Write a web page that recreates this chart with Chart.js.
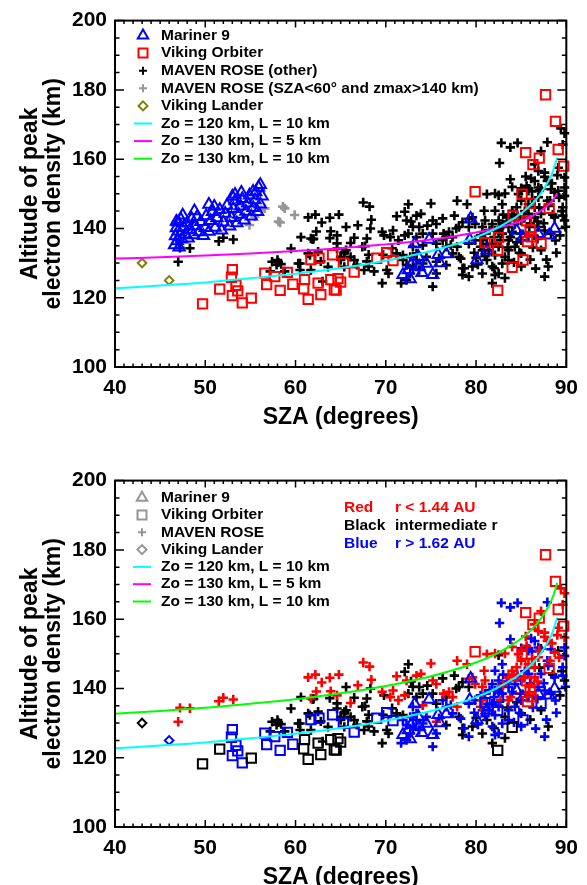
<!DOCTYPE html>
<html>
<head>
<meta charset="utf-8">
<script src="https://cdn.jsdelivr.net/npm/chart.js@4.4.1/dist/chart.umd.min.js"></script>
<style>
  html, body { margin: 0; padding: 0; background: #fff; overflow: hidden; }
  #wrap { position: relative; width: 587px; height: 885px; overflow: hidden; }
  canvas { position: absolute; left: 0; display: block; }
  #top { top: 0; }
  #bottom { top: 460px; }
</style>
</head>
<body>
<div id="wrap">
  <canvas id="top" width="587" height="460"></canvas>
  <canvas id="bottom" width="587" height="460"></canvas>
</div>
<script>
// --- Model curves (SZA in degrees, altitude in km) ---
const curveSza = [40, 45, 50, 55, 60, 65, 70, 72.5, 75, 77.5, 80, 82, 84, 85, 86, 87, 88, 88.5, 89];
const cyanAlt = [122.7, 123.5, 124.4, 125.6, 126.9, 128.6, 130.7, 132.0, 133.5, 135.3, 137.5, 139.7, 142.6, 144.4, 146.6, 149.5, 153.6, 156.4, 160.5];
const magentaAlt = [131.3, 131.7, 132.2, 132.8, 133.5, 134.3, 135.4, 136.0, 136.8, 137.7, 138.8, 139.9, 141.3, 142.2, 143.3, 144.8, 146.8, 148.2, 150.2];
const greenAlt = [132.7, 133.5, 134.4, 135.6, 136.9, 138.6, 140.7, 142.0, 143.5, 145.3, 147.5, 149.7, 152.6, 154.4, 156.6, 159.5, 163.6, 166.4, 170.5];

// --- Mariner 9 [sza, alt] ---
const mariner9Early = [[46.6,135.2],[46.7,137.8],[46.8,140.1],[46.9,136.4],[47.0,139.2],[47.0,141.8],[47.1,134.6],[47.2,138.0],[47.3,142.6],[47.4,136.9],[47.6,140.4],[47.8,138.3],[48.0,141.5],[48.1,137.2],[48.3,139.6],[48.5,142.8],[48.7,138.1],[48.9,140.7],[49.1,143.4],[49.3,139.0],[49.5,141.9],[49.8,137.9],[50.0,140.2],[50.1,143.6],[50.4,139.1],[50.6,142.2],[50.8,144.8],[51.1,140.3],[51.3,143.0],[51.6,145.4],[51.8,139.5],[52.0,141.8],[52.2,144.3],[52.4,146.6],[52.7,140.6],[52.9,143.1],[53.1,145.7],[53.3,147.9],[53.5,141.6],[53.7,144.0],[53.9,146.4],[54.1,148.6],[54.3,142.4],[54.5,144.9],[54.7,147.3],[54.9,149.6],[55.1,143.5],[55.3,146.0],[55.5,148.2],[55.6,150.5],[55.8,144.8],[55.9,151.9],[56.1,147.0],[56.3,149.3],[46.8,142.0],[47.5,143.8],[48.8,145.0],[50.4,146.9],[51.0,146.3],[53.0,149.2],[53.3,149.8],[54.0,150.4],[55.3,150.7],[56.1,152.6]];
const mariner9Late = [[73.2,135.5],[74.8,136.8],[72.8,129.5],[72.7,125.4],[75.2,126.6],[75.8,132.4],[76.7,132.6],[73.6,131.8],[72.5,128.0],[73.7,129.0],[74.5,129.9],[71.9,126.6],[80.1,130.9],[81.2,133.7],[79.3,136.7],[84.5,139.4],[85.2,137.5],[86.9,138.5],[88.1,138.0],[88.7,140.0],[79.4,142.9],[76.0,130.0],[74.0,127.2]];

// --- Viking Orbiter, split by heliocentric distance ---
const vikingRed = [[87.7,178.6],[88.8,170.9],[89.1,162.8],[85.5,161.9],[87.0,160.3],[86.3,158.4],[89.7,158.0],[79.9,150.6],[85.1,149.9],[86.0,147.2],[88.1,145.8],[84.1,143.6],[85.6,142.2],[86.0,139.7],[86.1,137.6],[85.7,136.2]];
const vikingBlack = [[49.7,118.2],[51.6,122.5],[55.1,119.9],[61.0,125.2],[60.9,122.6],[61.4,119.5],[62.8,120.9],[62.5,124.2],[64.3,122.3],[63.9,125.2],[84.0,128.8],[82.4,122.1],[64.7,125.5],[65.0,124.5],[64.5,122.2]];
const vikingBlue = [[53.0,128.1],[52.9,125.9],[53.4,123.6],[53.6,122.0],[53.0,120.6],[54.1,118.5],[56.6,127.1],[56.8,123.8],[57.7,126.1],[58.3,122.1],[59.1,127.3],[59.7,123.9],[61.7,131.0],[62.6,131.4],[64.1,132.4],[85.2,130.9],[87.2,135.7],[82.5,137.4],[81.0,135.9],[82.4,133.7],[70.1,133.0],[69.0,131.4],[70.8,130.7],[66.5,127.4],[65.3,130.0]];

// --- Viking Lander ---
const landerBlack = [[43.0,130.0]];
const landerBlue = [[46.0,125.0]];

// --- MAVEN ROSE ---
const mavenGray = [[54.9,141.0],[55.5,143.4],[56.2,145.3],[56.6,145.8],[58.1,142.0],[58.3,141.7],[58.8,145.8],[59.9,143.9],[58.6,146.3]];
const mavenRed = [[47.0,130.4],[47.2,134.4],[48.3,134.3],[51.5,136.3],[52.0,137.3],[53.1,136.8],[61.4,143.2],[62.2,144.0],[62.9,141.7],[63.8,143.1],[64.8,144.0],[62.3,139.1],[63.9,139.2],[64.6,138.0],[61.7,137.1],[66.1,135.8],[66.9,140.9],[67.5,147.5],[68.2,146.3],[68.4,142.5],[69.6,139.0],[71.2,143.5],[72.3,142.3],[73.4,143.7],[73.9,144.2],[70.8,139.4],[70.5,137.5],[71.4,136.6],[72.1,138.0],[75.0,147.2],[75.2,142.3],[75.6,141.3],[74.1,135.1],[75.6,130.4],[76.4,138.5],[77.0,139.0],[77.4,137.5],[77.9,148.0],[77.9,134.7],[79.0,147.0],[79.2,142.8],[79.6,143.2],[79.9,141.3],[80.9,145.1],[81.0,142.3],[80.7,140.4],[80.5,134.7],[81.2,149.9],[82.1,150.1],[83.6,143.2],[84.0,145.1],[84.7,149.9],[85.0,148.0],[84.5,146.1],[85.6,152.3],[85.0,150.9],[85.8,147.0],[86.5,146.1],[86.9,149.0],[86.5,143.2],[85.9,140.4],[83.6,136.6],[84.9,138.5],[86.9,156.6],[87.2,162.3],[87.6,156.1],[87.9,153.7],[89.1,157.5],[89.4,168.9],[89.6,164.2],[88.7,150.4],[89.2,148.9],[89.8,154.7],[86.5,158.5],[82.7,136.6],[80.7,136.6],[83.8,137.5],[89.8,167.5],[84.2,144.0],[85.3,143.0],[86.2,148.5],[87.0,151.0],[88.4,153.0],[83.0,141.0],[86.8,142.0],[88.2,148.0],[85.5,155.0],[84.0,152.0],[83.2,150.1],[87.6,154.9],[89.0,155.4]];
const mavenBlack = [[60.6,137.5],[61.9,136.9],[59.5,134.2],[63.8,137.2],[65.6,140.4],[58.1,130.2],[57.9,129.5],[58.4,129.7],[60.5,129.9],[61.6,132.3],[65.0,131.8],[65.4,128.9],[58.0,130.9],[57.4,130.4],[60.3,129.9],[61.4,132.8],[64.6,134.2],[65.4,133.2],[66.5,137.3],[67.9,137.1],[67.7,134.9],[65.6,133.7],[66.1,131.8],[65.0,130.9],[63.6,128.9],[61.7,128.0],[60.5,128.0],[72.5,147.0],[67.4,134.7],[65.4,132.8],[66.5,130.9],[67.6,128.0],[68.1,129.0],[70.1,128.0],[70.3,127.0],[69.6,124.2],[71.9,132.3],[73.4,137.5],[74.1,138.5],[75.2,138.5],[75.6,135.6],[76.7,137.5],[77.6,143.7],[78.1,140.4],[78.5,141.8],[79.2,140.4],[76.7,129.4],[78.5,128.5],[79.6,129.0],[78.1,131.8],[80.7,127.0],[81.8,124.2],[81.2,130.9],[83.2,131.8],[72.5,138.5],[73.7,140.4],[85.0,132.8],[87.2,133.7],[89.1,150.9],[89.8,142.3],[82.5,139.0],[84.5,136.0],[86.0,131.0],[83.5,134.5],[88.5,144.0],[87.0,146.0],[89.3,138.0],[88.0,129.0],[82.0,128.5],[80.0,131.5],[89.5,145.0],[62.0,137.0],[68.3,140.0],[72.1,144.8],[72.8,142.0],[73.0,140.5],[62.5,133.3],[64.6,135.7],[68.1,132.4],[67.9,130.5],[68.7,127.6],[69.7,132.4],[71.2,132.8],[70.7,134.3],[57.2,127.6],[58.8,127.6],[62.8,130.5],[63.0,124.7],[66.8,129.5],[82.5,149.6],[76.3,142.9],[77.8,140.0],[87.2,151.5],[83.2,125.7],[78.5,126.6],[69.8,138.0],[74.6,140.8]];
const mavenBlue = [[82.8,164.7],[83.8,163.4],[84.6,164.7],[87.9,164.9],[82.6,158.9],[83.8,154.2],[85.0,151.6],[86.2,150.7],[88.3,151.3],[89.6,146.1],[89.6,143.7],[88.7,143.2],[87.9,148.0],[87.2,144.2],[82.9,147.0],[82.1,145.1],[82.5,142.3],[81.8,141.3],[82.1,139.4],[82.9,138.5],[83.6,140.4],[84.3,141.3],[85.0,142.3],[85.8,144.2],[86.9,140.4],[87.6,139.4],[88.3,138.5],[85.0,136.6],[84.3,134.7],[83.6,133.7],[82.5,134.7],[81.8,135.6],[81.4,133.7],[82.1,132.3],[83.6,130.9],[82.9,129.9],[81.8,129.0],[82.5,127.0],[81.2,135.6],[81.0,138.5],[85.0,129.0],[87.6,126.1],[79.9,136.6],[79.2,135.6],[80.7,133.7],[78.3,131.3],[79.2,126.1],[78.7,128.5],[77.4,132.8],[75.2,123.2],[75.6,127.0],[74.5,131.8],[74.1,129.9],[73.4,130.9],[73.0,129.0],[73.7,128.0],[72.7,127.0],[72.3,125.1],[71.7,124.2],[73.4,132.8],[72.7,131.8],[71.9,130.9],[72.3,129.4],[73.0,134.7],[76.3,136.6],[76.7,134.7],[77.2,135.2],[89.8,149.4],[89.8,151.8],[86.9,151.8],[86.5,153.7],[85.8,150.9],[89.9,140.5],[84.0,139.0],[84.6,143.5],[85.4,145.0],[86.0,141.5],[86.8,137.0],[87.5,141.5],[88.0,146.5],[88.8,136.5],[83.0,144.0],[82.0,137.5],[81.5,139.5],[84.8,133.0],[86.3,134.5],[87.8,131.0],[85.8,138.0],[83.4,142.0],[82.8,140.5],[80.5,138.0],[79.8,133.0],[81.0,132.0],[75.9,131.4],[86.1,154.4],[85.8,151.5],[82.1,126.6],[84.2,130.2],[86.6,128.4],[88.9,133.0],[80.2,129.6]];

// --- Colours ---
const RED = '#ff0000', BLUE = '#0000ff', BLACK = '#000000', GRAY = '#969696', OLIVE = '#808000';
const CYAN = '#00ffff', MAGENTA = '#ff00ff', GREEN = '#00ff00';
const FONT = '"Liberation Sans", Helvetica, Arial, sans-serif';

Chart.defaults.font.family = FONT;

const pts = arr => arr.map(([x, y]) => ({ x, y }));

function marks(label, data, style, color, radius, order) {
  const plus = style === 'cross';
  return {
    type: 'scatter', label, data: pts(data), order, clip: 6,
    pointStyle: style, pointRadius: radius, pointHoverRadius: radius,
    pointBorderColor: color, pointBackgroundColor: 'rgba(0,0,0,0)',
    pointBorderWidth: plus ? 2.6 : 2, borderColor: color, backgroundColor: 'rgba(0,0,0,0)'
  };
}

function curve(label, alts, color) {
  return {
    type: 'line', label, order: 0, clip: 0,
    data: curveSza.map((x, i) => ({ x, y: alts[i] })),
    borderColor: color, borderWidth: 2, pointRadius: 0,
    cubicInterpolationMode: 'monotone', fill: false
  };
}

// draws a small legend symbol
function drawSym(ctx, sym, cx, cy, color) {
  ctx.strokeStyle = color;
  ctx.lineWidth = 2;
  ctx.beginPath();
  if (sym === 'triangle') {
    const r = 6;
    ctx.moveTo(cx, cy - r);
    ctx.lineTo(cx + r * 0.866, cy + r / 2);
    ctx.lineTo(cx - r * 0.866, cy + r / 2);
    ctx.closePath();
  } else if (sym === 'rect') {
    ctx.rect(cx - 4.5, cy - 4.5, 9, 9);
  } else if (sym === 'cross') {
    ctx.moveTo(cx - 4, cy); ctx.lineTo(cx + 4, cy);
    ctx.moveTo(cx, cy - 4); ctx.lineTo(cx, cy + 4);
  } else if (sym === 'rectRot') {
    ctx.moveTo(cx, cy - 4.5); ctx.lineTo(cx + 4.5, cy);
    ctx.lineTo(cx, cy + 4.5); ctx.lineTo(cx - 4.5, cy);
    ctx.closePath();
  } else if (sym === 'line') {
    ctx.moveTo(cx - 9, cy); ctx.lineTo(cx + 9, cy);
  }
  ctx.stroke();
}

// frame, inward ticks on all four sides, legend and notes
const panelDecor = {
  id: 'panelDecor',
  afterDraw(chart, args, opts) {
    const { ctx, chartArea: a, scales: { x, y } } = chart;
    ctx.save();
    ctx.strokeStyle = BLACK;
    ctx.lineWidth = 1.5;
    ctx.beginPath();
    for (let v = 40; v <= 90; v++) {
      const px = x.getPixelForValue(v);
      const len = v % 10 === 0 ? 7 : 3.5;
      ctx.moveTo(px, a.bottom); ctx.lineTo(px, a.bottom - len);
      ctx.moveTo(px, a.top); ctx.lineTo(px, a.top + len);
    }
    for (let v = 100; v <= 200; v += 5) {
      const py = y.getPixelForValue(v);
      const len = v % 20 === 0 ? 9 : 4.5;
      ctx.moveTo(a.left, py); ctx.lineTo(a.left + len, py);
      ctx.moveTo(a.right, py); ctx.lineTo(a.right - len, py);
    }
    ctx.stroke();
    ctx.lineWidth = 2;
    ctx.strokeRect(a.left, a.top, a.right - a.left, a.bottom - a.top);

    ctx.font = 'bold 15.5px ' + FONT;
    ctx.textBaseline = 'middle';
    ctx.textAlign = 'left';
    (opts.items || []).forEach((it, i) => {
      const cy = opts.y0 + i * opts.dy;
      drawSym(ctx, it.sym, opts.symX, cy, it.color);
      ctx.fillStyle = BLACK;
      ctx.fillText(it.text, opts.textX, cy);
    });
    (opts.notes || []).forEach(n => {
      ctx.fillStyle = n.color;
      ctx.fillText(n.text, n.x, n.y);
    });
    ctx.restore();
  }
};

function makeChart(id, datasets, decor) {
  return new Chart(document.getElementById(id), {
    type: 'scatter',
    data: { datasets },
    options: {
      responsive: false,
      animation: false,
      events: [],
      layout: { padding: { top: 18, right: 14, left: 0, bottom: 0 } },
      plugins: { legend: { display: false }, tooltip: { enabled: false }, panelDecor: decor },
      scales: {
        x: {
          type: 'linear', min: 40, max: 90,
          grid: { display: false, drawTicks: false },
          border: { display: false },
          ticks: { stepSize: 10, padding: 9, color: BLACK, font: { size: 21, weight: 'bold' } },
          title: {
            display: true, text: 'SZA (degrees)', color: BLACK,
            font: { size: 23, weight: 'bold', lineHeight: 1 }, padding: { top: 0, bottom: 31 }
          },
          afterFit: s => { s.height = 93; }
        },
        y: {
          type: 'linear', min: 100, max: 200,
          grid: { display: false, drawTicks: false },
          border: { display: false },
          ticks: { stepSize: 20, padding: 8, color: BLACK, font: { size: 21, weight: 'bold' } },
          title: {
            display: true, text: ['Altitude of peak', 'electron density (km)'], color: BLACK,
            font: { size: 23, weight: 'bold', lineHeight: 1 }, padding: { top: 19, bottom: 0 }
          },
          afterFit: s => { s.width = 115; }
        }
      }
    },
    plugins: [panelDecor]
  });
}

// ✅ Top panel: coloured by mission
makeChart('top', [
  curve('Zo = 120 km, L = 10 km', cyanAlt, CYAN),
  curve('Zo = 130 km, L = 5 km', magentaAlt, MAGENTA),
  marks('Viking Orbiter', [...vikingRed, ...vikingBlack, ...vikingBlue], 'rect', RED, 6.6, 1),
  marks('Viking Lander', [...landerBlack, ...landerBlue], 'rectRot', OLIVE, 4.3, 1),
  marks('Mariner 9', [...mariner9Early, ...mariner9Late], 'triangle', BLUE, 6.5, 2),
  marks('MAVEN ROSE (SZA<60° and zmax>140 km)', mavenGray, 'cross', GRAY, 4.7, 3),
  marks('MAVEN ROSE (other)', [...mavenRed, ...mavenBlack, ...mavenBlue], 'cross', BLACK, 4.7, 3)
], {
  symX: 143, textX: 161, y0: 35.5, dy: 17.6,
  items: [
    { sym: 'triangle', color: BLUE, text: 'Mariner 9' },
    { sym: 'rect', color: RED, text: 'Viking Orbiter' },
    { sym: 'cross', color: BLACK, text: 'MAVEN ROSE (other)' },
    { sym: 'cross', color: GRAY, text: 'MAVEN ROSE (SZA<60° and zmax>140 km)' },
    { sym: 'rectRot', color: OLIVE, text: 'Viking Lander' },
    { sym: 'line', color: CYAN, text: 'Zo = 120 km, L = 10 km' },
    { sym: 'line', color: MAGENTA, text: 'Zo = 130 km, L = 5 km' },
    { sym: 'line', color: GREEN, text: 'Zo = 130 km, L = 10 km' }
  ]
});

// ✅ Bottom panel: coloured by Mars-Sun distance
makeChart('bottom', [
  curve('Zo = 120 km, L = 10 km', cyanAlt, CYAN),
  curve('Zo = 130 km, L = 10 km', greenAlt, GREEN),
  marks('Viking Orbiter r<1.44', vikingRed, 'rect', RED, 6.6, 1),
  marks('Viking Orbiter mid', vikingBlack, 'rect', BLACK, 6.6, 1),
  marks('Viking Orbiter r>1.62', vikingBlue, 'rect', BLUE, 6.6, 1),
  marks('Viking Lander mid', landerBlack, 'rectRot', BLACK, 4.3, 1),
  marks('Viking Lander r>1.62', landerBlue, 'rectRot', BLUE, 4.3, 1),
  marks('Mariner 9', mariner9Late, 'triangle', BLUE, 6.5, 2),
  marks('MAVEN r<1.44', mavenRed, 'cross', RED, 4.7, 3),
  marks('MAVEN mid', mavenBlack, 'cross', BLACK, 4.7, 4),
  marks('MAVEN r>1.62', mavenBlue, 'cross', BLUE, 4.7, 3)
], {
  symX: 142, textX: 161, y0: 37.7, dy: 17.3,
  items: [
    { sym: 'triangle', color: GRAY, text: 'Mariner 9' },
    { sym: 'rect', color: GRAY, text: 'Viking Orbiter' },
    { sym: 'cross', color: GRAY, text: 'MAVEN ROSE' },
    { sym: 'rectRot', color: GRAY, text: 'Viking Lander' },
    { sym: 'line', color: CYAN, text: 'Zo = 120 km, L = 10 km' },
    { sym: 'line', color: MAGENTA, text: 'Zo = 130 km, L = 5 km' },
    { sym: 'line', color: GREEN, text: 'Zo = 130 km, L = 10 km' }
  ],
  notes: [
    { text: 'Red', x: 344, y: 47.7, color: RED },
    { text: 'r < 1.44 AU', x: 395, y: 47.7, color: RED },
    { text: 'Black', x: 344, y: 65.7, color: BLACK },
    { text: 'intermediate r', x: 395, y: 65.7, color: BLACK },
    { text: 'Blue', x: 344, y: 83.3, color: BLUE },
    { text: 'r > 1.62 AU', x: 395, y: 83.3, color: BLUE }
  ]
});
</script>
</body>
</html>
